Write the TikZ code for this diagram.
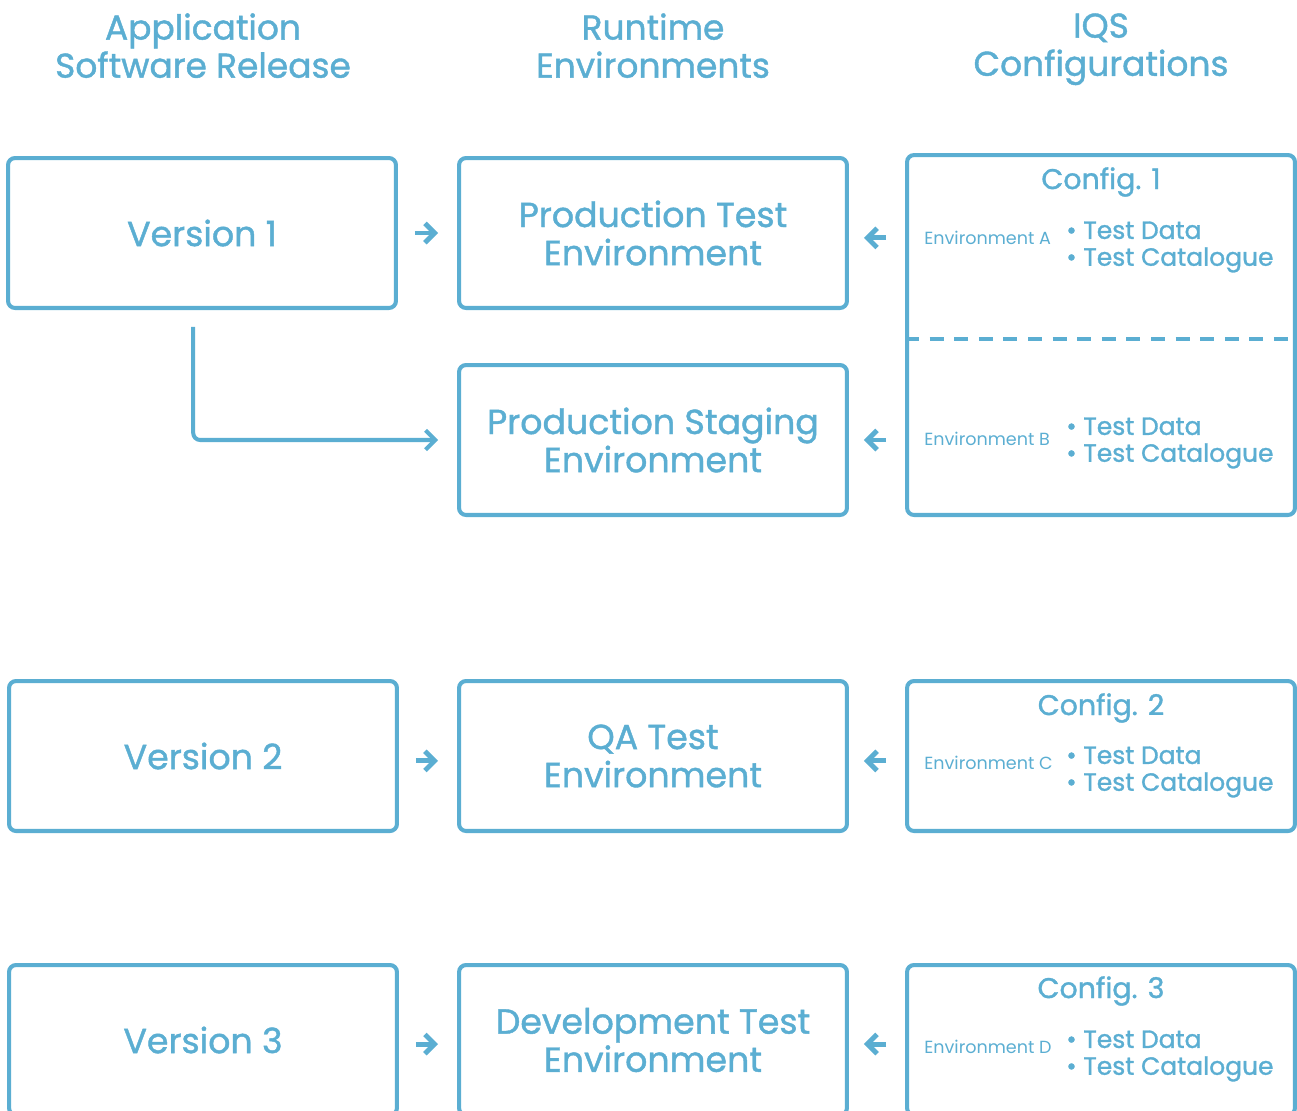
\documentclass[tikz,border=0pt]{standalone}
\usepackage{fontspec}
\setmainfont{Poppins}
\newfontfamily\iqsfont{Poppins}[FakeBold=1.2]
\usetikzlibrary{arrows.meta, positioning, calc}
\definecolor{iqsblue}{RGB}{91,174,210}
\tikzstyle{box} = [rectangle, rounded corners=4pt, minimum width=7.76cm, minimum height=3cm, text centered, align=center, draw=iqsblue, line width=2.3pt, text=iqsblue, inner sep=0pt, font=\iqsfont\fontsize{19.8}{21.7}\selectfont]
\tikzstyle{heading} = [text=iqsblue, align=center, anchor=north, inner sep=0pt, font=\iqsfont\fontsize{19.6}{21.7}\selectfont]
\tikzstyle{cfgtitle} = [text=iqsblue, font=\iqsfont\fontsize{16.2}{18}\selectfont]
\tikzstyle{envlabel} = [text=iqsblue, anchor=west, inner sep=0pt, font=\fontsize{10}{11}\selectfont]
\tikzstyle{items} = [text=iqsblue, anchor=west, align=left, inner sep=0pt, font=\iqsfont\fontsize{14.2}{15.3}\selectfont]
\tikzstyle{arrow} = [line width=2.8pt, draw=iqsblue, -{Straight Barb[length=5.5pt, width=11pt]}]

\begin{document}
\begin{tikzpicture}[x=0.02cm, y=-0.02cm]
\useasboundingbox (0,0) rectangle (1297,1110);
\clip (0,0) rectangle (1297,1110);

% Column headings
\node (hd_app) [heading] at (203,13) {Application\\Software Release};
\node (hd_run) [heading] at (653,13) {Runtime\\Environments};
\node (hd_iqs) [heading] at (1101,13) {IQS\\Configurations};

% Row 1
\node (v1) [box] at (202,233) {Version 1};
\node (pt) [box] at (653,233) {Production Test\\Environment};
\node (cfg1) [box, minimum height=7.2cm] at (1101,335) {};
\node (ps) [box] at (653,440) {Production Staging\\Environment};

% Row 2
\node (v2) [box] at (203,756) {Version 2};
\node (qa) [box] at (653,756) {QA Test\\Environment};
\node (cfg2) [box] at (1101,756) {};

% Row 3
\node (v3) [box] at (203,1040) {Version 3};
\node (dt) [box] at (653,1040) {Development Test\\Environment};
\node (cfg3) [box] at (1101,1040) {};

% Config 1 contents
\node (cfg1_t) [cfgtitle] at (1101,182) {Config. 1};
\node (env_a) [envlabel] at (924,238) {Environment A};
\node (items_a) [items] at (1066,247) {• Test Data\\• Test Catalogue};
\draw [draw=iqsblue, line width=2.3pt, dash pattern=on 8pt off 6pt] (cfg1.west |- 0,339) -- (cfg1.east |- 0,339);
\node (env_b) [envlabel] at (924,439) {Environment B};
\node (items_b) [items] at (1066,443) {• Test Data\\• Test Catalogue};

% Config 2 contents
\node (cfg2_t) [cfgtitle] at (1101,708) {Config. 2};
\node (env_c) [envlabel] at (924,763) {Environment C};
\node (items_c) [items] at (1066,772) {• Test Data\\• Test Catalogue};

% Config 3 contents
\node (cfg3_t) [cfgtitle] at (1101,991) {Config. 3};
\node (env_d) [envlabel] at (924,1047) {Environment D};
\node (items_d) [items] at (1066,1056) {• Test Data\\• Test Catalogue};

% Arrows from versions to environments
\draw [arrow, shorten <=9.6pt, shorten >=10.8pt] (v1) -- (pt);
\draw [arrow, shorten <=9.6pt, shorten >=10.8pt] ([yshift=-2.8pt]v2.east) -- ([yshift=-2.8pt]qa.west);
\draw [arrow, shorten <=9.6pt, shorten >=10.8pt] ([yshift=-2.3pt]v3.east) -- ([yshift=-2.3pt]dt.west);
\draw [arrow, line width=2.3pt, rounded corners=4pt, shorten >=10.8pt] ([xshift=-5pt, yshift=-9.6pt]v1.south) |- (ps.west);

% Arrows from configurations to environments
\draw [arrow, shorten <=10.8pt, shorten >=8.5pt] ([yshift=-2.8pt]cfg1.west |- pt.east) -- ([yshift=-2.8pt]pt.east);
\draw [arrow, shorten <=10.8pt, shorten >=8.5pt] (cfg1.west |- ps.east) -- (ps.east);
\draw [arrow, shorten <=10.8pt, shorten >=8.5pt] ([yshift=-2.8pt]cfg2.west) -- ([yshift=-2.8pt]qa.east);
\draw [arrow, shorten <=10.8pt, shorten >=8.5pt] ([yshift=-2.3pt]cfg3.west) -- ([yshift=-2.3pt]dt.east);

\end{tikzpicture}
\end{document}
